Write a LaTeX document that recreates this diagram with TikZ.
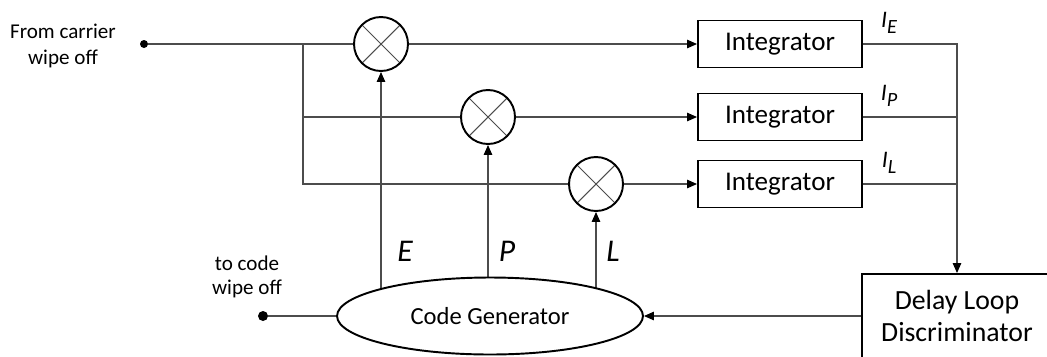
\documentclass[tikz,border=0pt]{standalone}
\usepackage{fontspec}
\setmainfont{Carlito}
\usepackage{tikz}
\usetikzlibrary{arrows.meta,positioning,shapes.geometric,backgrounds}
\newcommand{\isub}[2]{#1\raisebox{-0.55ex}{\fontsize{11.5}{12}\selectfont #2}}

\begin{document}
\begin{tikzpicture}[
  x=0.02cm, y=-0.02cm,
  ln/.style={draw=black!70, line width=0.7pt},
  arr/.style={ln, -{Triangle[length=2mm, width=1.7mm, color=black]}},
  mix/.style={circle, draw, line width=1.1pt, fill=white, minimum size=1.08cm, inner sep=0pt,
    path picture={\draw[black!70, line width=0.6pt]
      (path picture bounding box.north west) -- (path picture bounding box.south east)
      (path picture bounding box.north east) -- (path picture bounding box.south west);}},
  intg/.style={draw, line width=1.1pt, fill=white, minimum width=3.28cm, minimum height=0.94cm,
    font=\fontsize{15.4}{18}\selectfont},
  dot/.style={circle, fill, inner sep=0pt, minimum size=1.6mm},
  lbl/.style={align=center, font=\fontsize{12}{15}\selectfont},
  sig/.style={font=\fontsize{18}{20}\selectfont\itshape},
  isig/.style={font=\fontsize{13.5}{15}\selectfont\itshape}
]
  \useasboundingbox (0,0) rectangle (1047,356);

  % input side
  \node[dot] (in) at (144,44) {};
  \node[lbl] (intxt) at (63,46) {From carrier\\wipe off};
  \coordinate (br) at (303,44);

  % correlators
  \node[mix] (m1) at (381,44) {};
  \node[mix] (m2) at (488,117) {};
  \node[mix] (m3) at (596,184) {};
  \node[intg] (i1) at (780,44) {Integrator};
  \node[intg] (i2) at (780,117) {Integrator};
  \node[intg] (i3) at (780,184) {Integrator};

  % loop blocks
  \node[ellipse, draw, line width=1.1pt, fill=white, minimum width=6.12cm, minimum height=1.54cm,
    font=\fontsize{14}{16}\selectfont] (gen) at (490,316) {Code Generator};
  \node[draw, line width=1.1pt, fill=white, minimum width=3.8cm, minimum height=1.68cm, align=center,
    font=\fontsize{15.8}{18.7}\selectfont] (dlf) at (957,316) {Delay Loop\\Discriminator};
  \node[dot, minimum size=2mm] (out) at (263,316) {};
  \node[lbl, font=\fontsize{12}{14}\selectfont] (outtxt) at (247,277) {to code\\wipe off};

  % signal lines
  \draw[ln] (in) -- (m1);
  \draw[ln] (br) |- (m2);
  \draw[ln] (br) |- (m3);
  \draw[arr] (m1) -- (i1);
  \draw[arr] (m2) -- (i2);
  \draw[arr] (m3) -- (i3);
  \draw[arr] (i1) -| (dlf);
  \draw[ln] (i2) -- (i2 -| dlf);
  \draw[ln] (i3) -- (i3 -| dlf);
  \draw[arr] (dlf) -- (gen);
  \draw[ln] (gen) -- (out);

  % code replicas (ends hidden under the ellipse)
  \begin{scope}[on background layer]
    \draw[arr] (m1 |- gen) -- (m1);
    \draw[arr] (m2 |- gen) -- (m2);
    \draw[arr] (m3 |- gen) -- (m3);
  \end{scope}

  % labels
  \node[sig] (le) at (405,251) {E};
  \node[sig] (lp) at (507,251) {P};
  \node[sig] (ll) at (613,251) {L};
  \node[isig] (ie) at (889,23) {\isub{I}{E}};
  \node[isig] (ip) at (889,96) {\isub{I}{P}};
  \node[isig] (il) at (889,163) {\isub{I}{L}};
\end{tikzpicture}
\end{document}
